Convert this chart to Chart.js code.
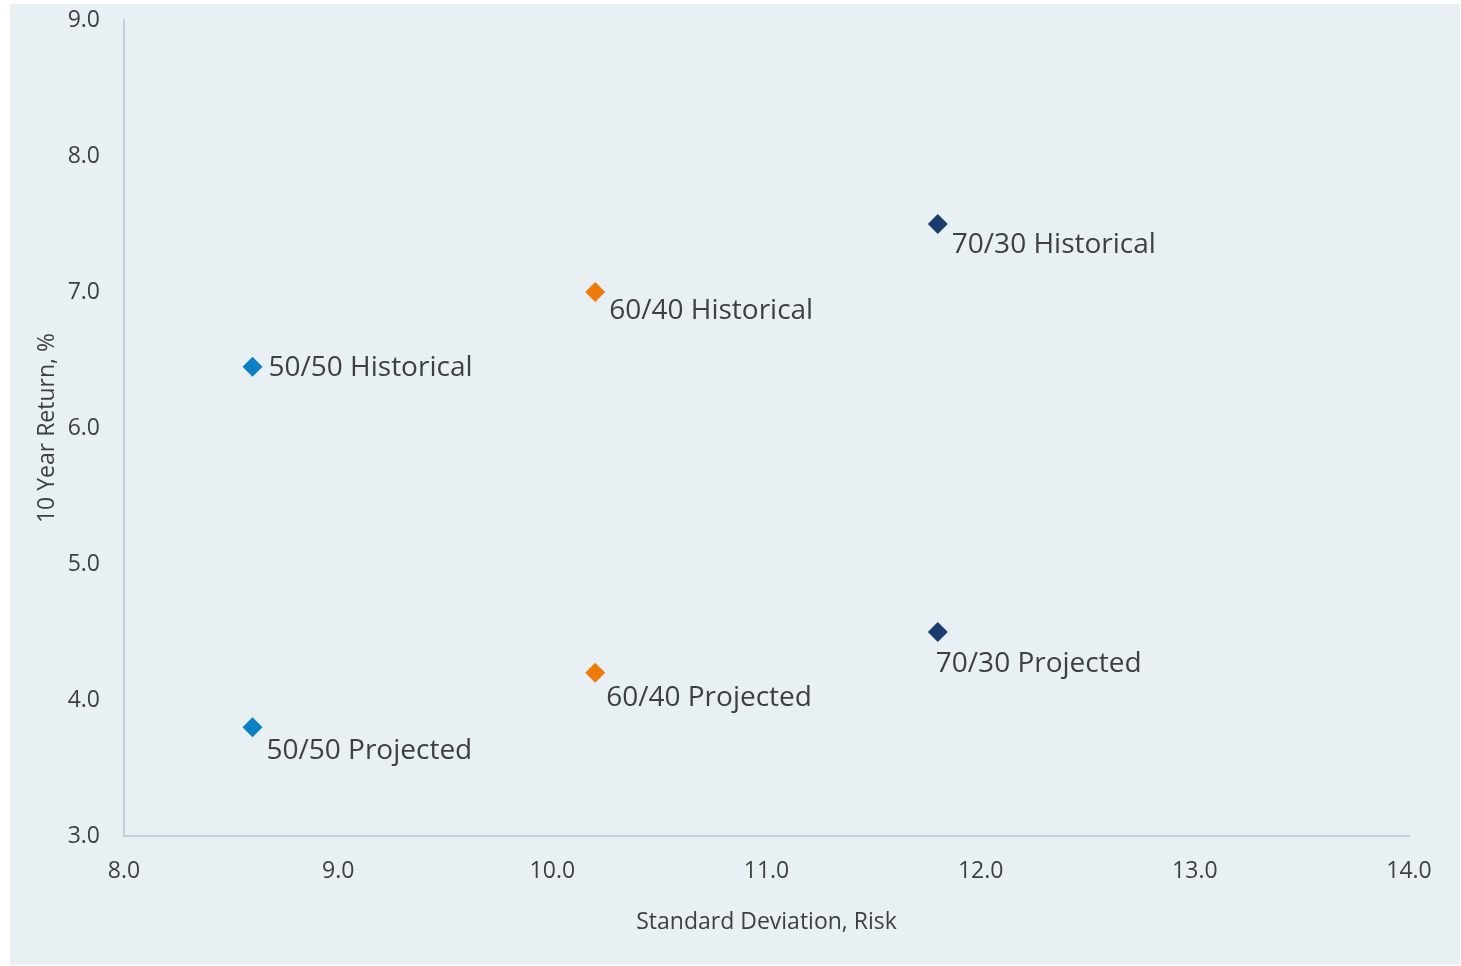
<!DOCTYPE html>
<html>
<head>
<meta charset="utf-8">
<script src="https://cdn.jsdelivr.net/npm/chart.js@4"></script>
<style>
  html, body { margin: 0; padding: 0; background: #ffffff; }
  .panel { position: absolute; left: 10px; top: 4px; width: 1450px; height: 961px; background: #e8f0f3; }
</style>
</head>
<body>
<div class="panel"><canvas id="myChart" width="1450" height="961"></canvas></div>
<script>
// portfolio mixes: risk (x) and 10 year return (y)
var mixes = ["50/50", "60/40", "70/30"];
var risk = [8.6, 10.2, 11.8];
var historical = [6.45, 7.0, 7.5];
var projected = [3.8, 4.2, 4.5];
var colors = ["#0b80c3", "#ed7a0b", "#1b3d6d"];
var xTicks = [8, 9, 10, 11, 12, 13, 14];
var yTicks = [3, 4, 5, 6, 7, 8, 9];

// label offsets from each point (px), [dx, dy]
var histOffsets = [[16, 1], [14, 19], [14, 21]];
var projOffsets = [[14, 24], [11, 25], [-2, 32]];

var datasets = [];
mixes.forEach(function (m, i) {
  datasets.push({
    label: m + " Historical",
    data: [{ x: risk[i], y: historical[i] }],
    backgroundColor: colors[i],
    offsets: histOffsets[i],
  });
  datasets.push({
    label: m + " Projected",
    data: [{ x: risk[i], y: projected[i] }],
    backgroundColor: colors[i],
    offsets: projOffsets[i],
  });
});

var pointLabels = {
  id: "pointLabels",
  afterDatasetsDraw: function (chart) {
    var ctx = chart.ctx;
    ctx.save();
    ctx.font = "28px 'Open Sans'";
    ctx.fillStyle = "#3f3f3f";
    ctx.textAlign = "left";
    ctx.textBaseline = "middle";
    chart.data.datasets.forEach(function (ds, i) {
      var pt = chart.getDatasetMeta(i).data[0];
      ctx.fillText(ds.label, pt.x + ds.offsets[0], pt.y + ds.offsets[1]);
    });
    ctx.restore();
  },
};

var chart1 = document.getElementById("myChart").getContext("2d");

var myChart = new Chart(chart1, {
  type: "scatter",
  data: { datasets: datasets },
  options: {
    responsive: false,
    animation: false,
    layout: { padding: { top: 16, right: 51, bottom: 0, left: 0 } },
    elements: {
      point: { pointStyle: "rectRot", radius: 10, borderWidth: 0 },
    },
    plugins: {
      legend: { display: false },
      tooltip: { enabled: false },
    },
    scales: {
      x: {
        type: "linear",
        min: 8,
        max: 14,
        afterBuildTicks: function (scale) {
          scale.ticks = xTicks.map(function (v) { return { value: v }; });
        },
        afterFit: function (scale) {
          scale.height = 129;
          scale.paddingLeft = 0;
          scale.paddingRight = 0;
        },
        grid: { display: false, drawTicks: false },
        border: { display: true, color: "#c3cfda", width: 2 },
        ticks: {
          padding: 22,
          color: "#3f3f3f",
          font: { family: "'Open Sans'", size: 23 },
          maxRotation: 0,
          callback: function (v) { return v.toFixed(1); },
        },
        title: {
          display: true,
          text: "Standard Deviation, Risk",
          color: "#3f3f3f",
          font: { family: "'Open Sans'", size: 23 },
          padding: { top: 0, bottom: 29 },
        },
      },
      y: {
        type: "linear",
        min: 3,
        max: 9,
        afterBuildTicks: function (scale) {
          scale.ticks = yTicks.map(function (v) { return { value: v }; });
        },
        afterFit: function (scale) {
          scale.width = 114;
          scale.paddingTop = 0;
          scale.paddingBottom = 0;
        },
        grid: { display: false, drawTicks: false },
        border: { display: true, color: "#c3cfda", width: 2 },
        ticks: {
          padding: 24,
          color: "#3f3f3f",
          font: { family: "'Open Sans'", size: 23 },
          callback: function (v) { return v.toFixed(1); },
        },
        title: {
          display: true,
          text: "10 Year Return, %",
          color: "#3f3f3f",
          font: { family: "'Open Sans'", size: 23 },
          padding: { top: 24, bottom: 0 },
        },
      },
    },
  },
  plugins: [pointLabels],
});
</script>
</body>
</html>
